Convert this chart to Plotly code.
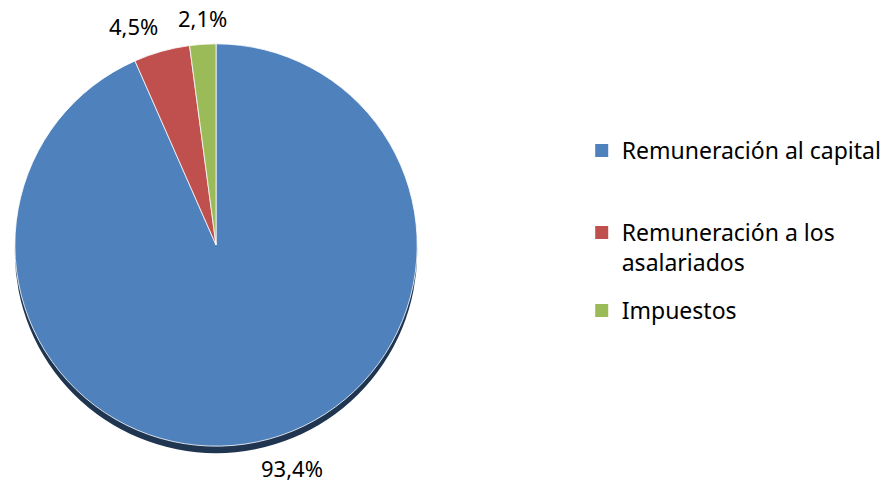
import math
import plotly.graph_objects as go

categories = ["Remuneración al capital", "Remuneración a los asalariados", "Impuestos"]
legend_labels = ["Remuneración al capital", "Remuneración a los<br>asalariados", "Impuestos"]
values = [93.4, 4.5, 2.1]
colors = ["#4F81BD", "#C0504D", "#9BBB59"]

W, H = 887, 487
cx, cy, d = 218, 245, 406
R = d / 2
dom_x = [(cx - R) / W, (cx + R) / W]
dom_y = [1 - (cy + R) / H, 1 - (cy - R) / H]
sh = 7
dom_y_sh = [dom_y[0] - sh / H, dom_y[1] - sh / H]
FONT = "Noto Sans, Open Sans, sans-serif"

fig = go.Figure()
# shadow disk under the pie
fig.add_trace(go.Pie(
    values=[sum(values)], labels=["shadow"], marker=dict(colors=["#1F3550"]),
    domain=dict(x=dom_x, y=dom_y_sh), textinfo="none", hoverinfo="skip",
    showlegend=False, sort=False,
))
fig.add_trace(go.Pie(
    labels=categories, values=values, sort=False, direction="clockwise", rotation=0,
    marker=dict(colors=colors, line=dict(color="rgba(255,255,255,0.8)", width=1)),
    domain=dict(x=dom_x, y=dom_y),
    textinfo="none", hoverinfo="label+percent", showlegend=False,
))

# data labels at outside end of each slice, computed from the values
total = sum(values)
cum = 0.0
for v in values:
    mid = (cum + v / 2) / total
    cum += v
    th = 2 * math.pi * mid
    s, c = math.sin(th), math.cos(th)
    dist = R + (sh if c < 0 else 7)
    px = cx + dist * s
    py = cy - dist * c
    xa = "right" if s < -0.1 else ("left" if s > 0.1 else "center")
    ya = "bottom" if c > 0.3 else ("top" if c < -0.3 else "middle")
    fig.add_annotation(
        x=px / W, y=1 - py / H, xref="paper", yref="paper",
        text=f"{v:.1f}".replace(".", ",") + "%", showarrow=False,
        xanchor=xa, yanchor=ya,
        font=dict(family=FONT, size=22, color="#000000"),
    )

# legend entries (one legend per entry so spacing matches)
legend_y = [152, 234, 312]
legend_names = ["legend", "legend2", "legend3"]
for name, col, lg in zip(legend_labels, colors, legend_names):
    fig.add_trace(go.Scatter(
        x=[None], y=[None], mode="markers", name=name, legend=lg,
        marker=dict(symbol="square", size=13, color=col), showlegend=True,
        hoverinfo="skip",
    ))

layout_legends = {}
for lg, ly in zip(legend_names, legend_y):
    layout_legends[lg] = dict(
        x=587 / W, y=1 - (ly - 23) / H, xanchor="left", yanchor="top", valign="top",
        font=dict(family=FONT, size=23, color="#000000"), bgcolor="rgba(0,0,0,0)",
    )

fig.update_layout(
    width=W, height=H, margin=dict(l=0, r=0, t=0, b=0),
    paper_bgcolor="white", plot_bgcolor="white",
    font=dict(family=FONT, size=21, color="#000000"),
    xaxis=dict(visible=False), yaxis=dict(visible=False),
    **layout_legends,
)
fig.write_html("out.html", config={"displayModeBar": False},
               post_script="document.body.style.margin='0';")
